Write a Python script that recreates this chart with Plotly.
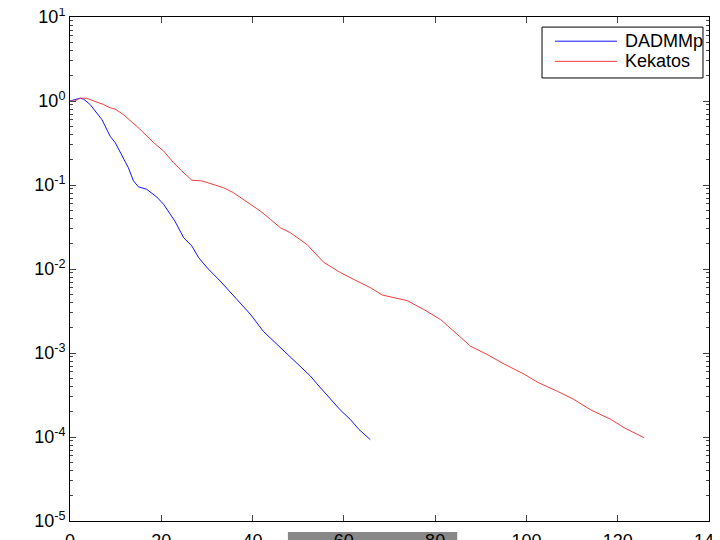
import plotly.graph_objects as go

# DADMMp (blue)
dadmm_x = [0, 1, 2.2, 3, 4.4, 7, 8.8, 9.9, 12.8, 13.9, 15, 16.8, 19, 20.5, 23, 24.9,
           26.7, 28.2, 30.3, 32.9, 39.5, 42.4, 46.1, 49, 52.7, 54.1, 57.8, 59.2,
           61.4, 63.3, 65.8]
dadmm_y = [1.0, 1.04, 1.08, 1.05, 0.91, 0.6, 0.38, 0.32, 0.16, 0.112, 0.095, 0.089,
           0.072, 0.059, 0.037, 0.0236, 0.0188, 0.0136, 0.010, 0.0072, 0.0029,
           0.0018, 0.00115, 0.00083, 0.00053, 0.00043, 0.00026, 0.00021,
           0.000162, 0.000123, 0.000093]

# Kekatos (red)
kekatos_x = [0, 1.1, 2.2, 3.6, 7.3, 8.8, 9.9, 11.7, 15, 16.1, 18.3, 20.5, 22.7, 24.5,
             26.7, 28.9, 31.4, 33.6, 35.8, 38.8, 41.7, 43.9, 46.1, 48.3, 51.9, 55.6,
             59.2, 62.2, 65.8, 68.4, 70.9, 73.9, 77.5, 81.2, 84.9, 87.8, 91.4, 95.1,
             99.5, 102.4, 106.8, 110.4, 114.1, 118.5, 121.4, 125.8]
kekatos_y = [1.0, 1.0, 1.08, 1.08, 0.91, 0.83, 0.80, 0.69, 0.48, 0.42, 0.32, 0.254,
             0.184, 0.147, 0.114, 0.112, 0.102, 0.093, 0.081, 0.062, 0.049, 0.039,
             0.031, 0.027, 0.0196, 0.012, 0.0091, 0.0075, 0.0060, 0.0049, 0.0046,
             0.0042, 0.0033, 0.0025, 0.00166, 0.0012, 0.00096, 0.00074, 0.00056,
             0.00045, 0.00035, 0.00028, 0.00021, 0.000162, 0.000129, 0.000098]

series_names = ["DADMMp", "Kekatos"]
series_colors = ["rgb(20,20,255)", "rgb(240,60,60)"]

x_ticks = [0, 20, 40, 60, 80, 100, 120, 140]
y_exps = [-5, -4, -3, -2, -1, 0, 1]

y_tickvals = [10.0 ** e for e in y_exps]
y_ticktext = ["10<sup>%s</sup>" % e for e in y_exps]
y_minor = [m * 10.0 ** e for e in y_exps[:-1] for m in range(2, 10)]

FONT = "Liberation Sans, Arial, sans-serif"
axis_font = dict(family=FONT, size=18, color="black")

fig = go.Figure()
fig.add_trace(go.Scatter(x=dadmm_x, y=dadmm_y, mode="lines", name=series_names[0],
                         line=dict(color=series_colors[0], width=1)))
fig.add_trace(go.Scatter(x=kekatos_x, y=kekatos_y, mode="lines", name=series_names[1],
                         line=dict(color=series_colors[1], width=1)))
# empty trace so the minor-tick overlay axis gets drawn
fig.add_trace(go.Scatter(x=[], y=[], yaxis="y2", showlegend=False, hoverinfo="skip"))

# grey bar below the axis
fig.add_shape(type="rect", xref="paper", yref="paper",
              x0=0.341, x1=0.606, y0=-0.022, y1=-0.06,
              fillcolor="rgb(136,136,136)", line_width=0, layer="below")

# legend box drawn by hand (MATLAB style, long line samples)
fig.add_shape(type="rect", xref="paper", yref="paper",
              x0=0.7387, x1=0.9906, y0=0.879, y1=0.980,
              fillcolor="white", line=dict(color="black", width=1), layer="above")
for i, (name, col) in enumerate(zip(series_names, series_colors)):
    yy = 0.952 - i * 0.040
    fig.add_shape(type="line", xref="paper", yref="paper",
                  x0=0.759, x1=0.856, y0=yy, y1=yy,
                  line=dict(color=col, width=1), layer="above")
    fig.add_annotation(xref="paper", yref="paper", x=0.8654, y=yy,
                       xanchor="left", yanchor="middle", text=name,
                       showarrow=False, font=axis_font)

# page body has an 8px margin, so the figure is 8px smaller than the window
fig.update_layout(
    width=712, height=532,
    margin=dict(l=62, r=11, t=9, b=19),
    paper_bgcolor="white", plot_bgcolor="white",
    font=axis_font,
    showlegend=False,
    xaxis=dict(
        range=[0, 140], tickvals=x_ticks, ticks="inside", ticklen=6,
        showline=True, linecolor="black", linewidth=1, mirror="ticks",
        showgrid=False, zeroline=False, tickfont=axis_font,
        automargin=False, ticklabeloverflow="allow", ticklabelstandoff=3,
    ),
    yaxis=dict(
        type="log", range=[-5, 1], tickvals=y_tickvals, ticktext=y_ticktext,
        ticks="inside", ticklen=6,
        showline=True, linecolor="black", linewidth=1, mirror="ticks",
        showgrid=False, zeroline=False, tickfont=axis_font,
        automargin=False, ticklabeloverflow="allow",
    ),
    yaxis2=dict(
        type="log", range=[-5, 1], overlaying="y", anchor="x", side="left",
        tickvals=y_minor, ticks="inside", ticklen=3, showticklabels=False,
        showline=True, linecolor="black", linewidth=1, mirror="ticks",
        showgrid=False, zeroline=False, automargin=False,
    ),
)

fig.write_html("out.html")
